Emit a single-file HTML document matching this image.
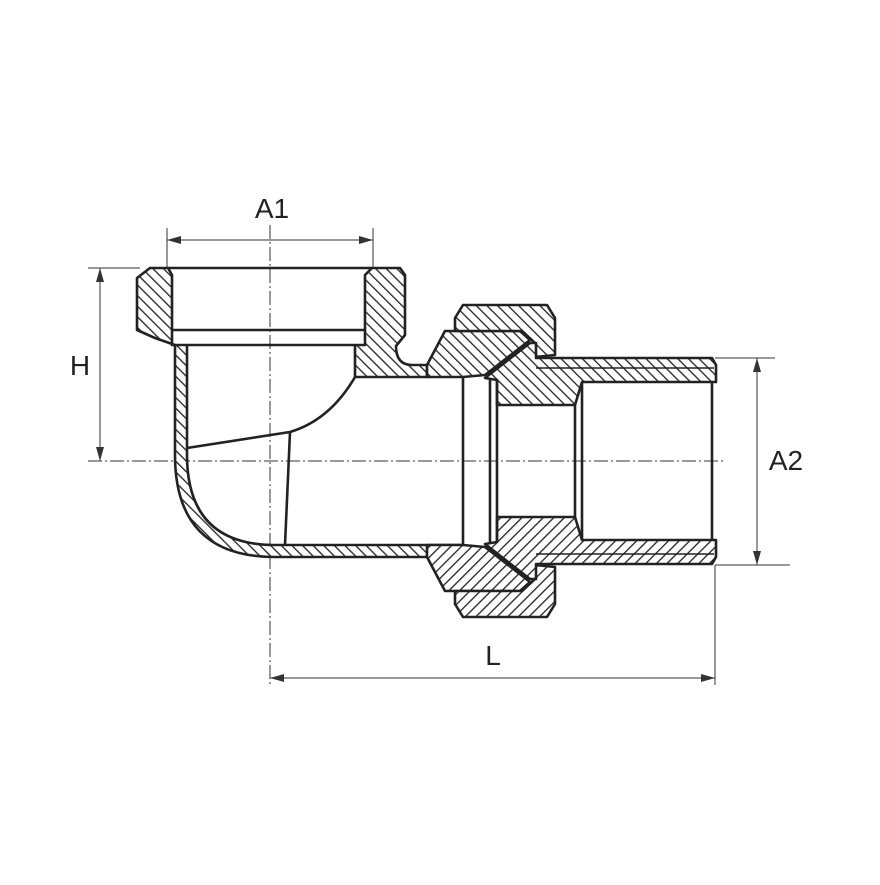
<!DOCTYPE html>
<html><head><style>html,body{margin:0;padding:0;background:#fff}</style></head>
<body>
<svg width="880" height="880" viewBox="0 0 880 880" xmlns="http://www.w3.org/2000/svg">
<defs>
<pattern id="h1" patternUnits="userSpaceOnUse" width="7.5" height="7.5" patternTransform="rotate(-45)">
<rect width="7.5" height="7.5" fill="#fff"/><line x1="0" y1="0" x2="0" y2="7.5" stroke="#222" stroke-width="2.6"/></pattern>
<pattern id="h2" patternUnits="userSpaceOnUse" width="7.5" height="7.5" patternTransform="rotate(45)">
<rect width="7.5" height="7.5" fill="#fff"/><line x1="0" y1="0" x2="0" y2="7.5" stroke="#222" stroke-width="2.6"/></pattern>
</defs>
<g stroke="#333" stroke-width="1" fill="none">
<line x1="270" y1="225" x2="270" y2="685" stroke-dasharray="14,3,2,3"/>
<line x1="88" y1="461" x2="725" y2="461" stroke-dasharray="14,3,2,3"/>
<line x1="167" y1="228" x2="167" y2="268"/>
<line x1="373" y1="228" x2="373" y2="268"/>
<line x1="88" y1="268" x2="140" y2="268"/>
<line x1="715" y1="358" x2="775" y2="358"/>
<line x1="715" y1="565" x2="790" y2="565"/>
<line x1="715" y1="565" x2="715" y2="685"/>
<line x1="167" y1="240" x2="373" y2="240"/>
<line x1="100" y1="268" x2="100" y2="461"/>
<line x1="757" y1="358" x2="757" y2="565"/>
<line x1="270" y1="678" x2="715" y2="678"/>
</g>
<g fill="#333">
<path d="M167,240 l14,-4 v8z M373,240 l-14,-4 v8z"/>
<path d="M100,268 l-4,14 h8z M100,461 l-4,-14 h8z"/>
<path d="M757,358 l-4,14 h8z M757,565 l-4,-14 h8z"/>
<path d="M270,678 l14,-4 v8z M715,678 l-14,-4 v8z"/>
</g>
<g font-family="Liberation Sans, sans-serif" font-size="28" fill="#222" text-anchor="middle">
<text x="272" y="218">A1</text>
<text x="80" y="375">H</text>
<text x="786" y="470">A2</text>
<text x="493" y="665">L</text>
</g>
<g stroke="#222" stroke-width="2.6" stroke-linejoin="round">
<path fill="url(#h1)" d="M137,278 L150,268 L168,268 L172,275 L172,345 L187,345 L187,455 Q187,545 275,545 L463,545 L463,557 L275,557 Q175,557 175,455 L175,345 L155,338 L137,330 Z"/>
<path fill="url(#h1)" d="M365,275 L372,268 L400,268 L405,275 L405,335 L396,346 Q396,365 412,365 L427,365 L427,377 L355,377 L355,345 L365,345 Z"/>
<g id="top">
<path fill="url(#h1)" d="M427,365 L445,331 L520,331 L530,340 L485,375 L463,377 L427,377 Z"/>
<path fill="url(#h1)" d="M455,318 L463,305 L547,305 L555,318 L555,355 L535,357 L535,343 L522,331 L455,331 Z"/>
<path fill="url(#h1)" d="M485,378 L530,343 L536,343 L536,358 L712,358 L716,365 L716,382 L582,382 L575,405 L497,405 L497,380 Z"/>
<line x1="536" y1="368" x2="714" y2="368" stroke-width="1.5"/>
</g>
<use href="#top" transform="matrix(1,0,0,-1,0,922)"/>
<g fill="none">
<line x1="168" y1="268" x2="372" y2="268"/>
<line x1="172" y1="330" x2="365" y2="330"/>
<line x1="187" y1="345" x2="355" y2="345"/>
<path d="M355,377 Q330,420 290,432 L187,448"/>
<line x1="290" y1="432" x2="285" y2="545"/>
<line x1="463" y1="377" x2="463" y2="545"/>
<line x1="490" y1="380" x2="490" y2="542"/>
<line x1="497" y1="380" x2="497" y2="542"/>
<line x1="582" y1="382" x2="582" y2="540"/>
<line x1="575" y1="405" x2="575" y2="517"/>
<line x1="712" y1="382" x2="712" y2="540"/>
</g>
</g>
</svg>
</body></html>
